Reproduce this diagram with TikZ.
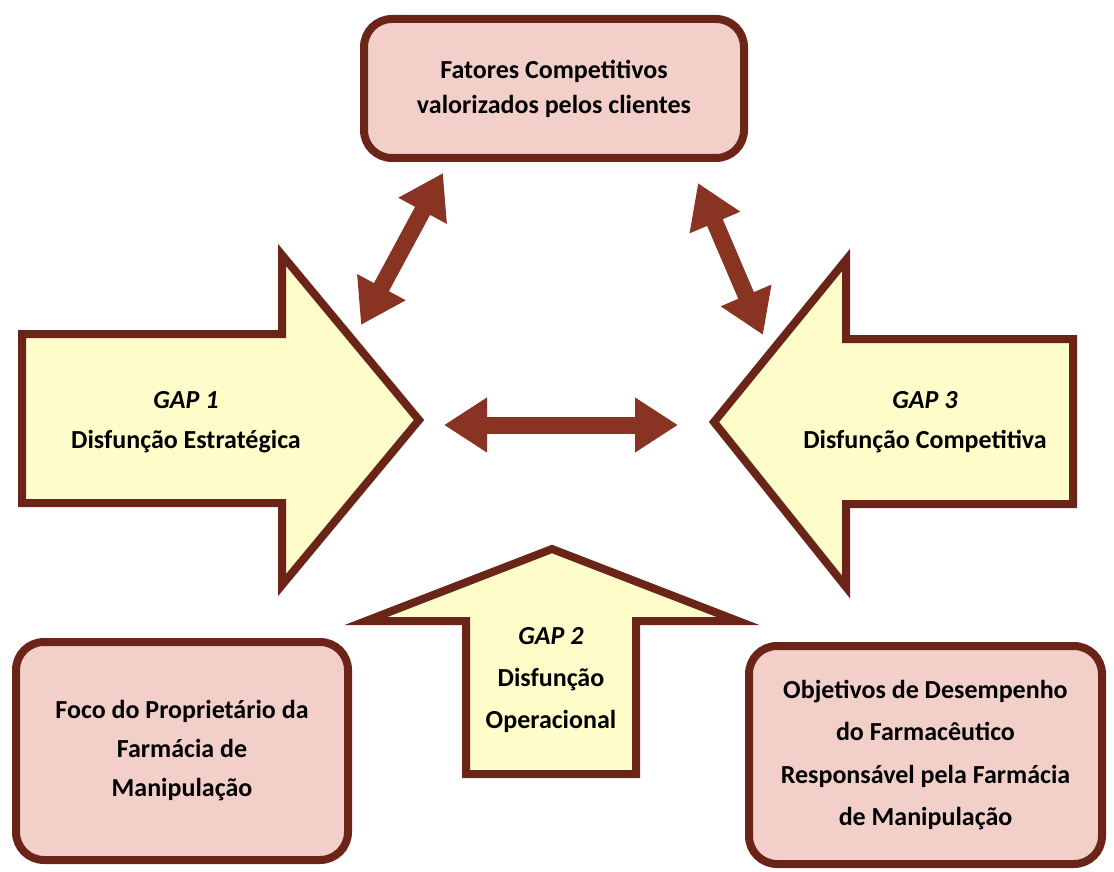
\documentclass[tikz,border=0pt]{standalone}
\usepackage{fontspec}
\setmainfont{Carlito}
\usetikzlibrary{arrows.meta}
\definecolor{gapborder}{HTML}{6A2518}
\definecolor{boxfill}{HTML}{F2D0C9}
\definecolor{gapfill}{HTML}{FEFCC9}
\definecolor{linkred}{HTML}{893322}
\begin{document}
\begin{tikzpicture}[x=0.5pt,y=-0.5pt,
    focobox/.style={draw=gapborder,fill=boxfill,line width=4pt,rounded corners=14pt,align=center,
        font=\bfseries\fontsize{13}{20}\selectfont},
    gapshape/.style={draw=gapborder,fill=gapfill,line width=4pt,line join=miter},
    gaptext/.style={align=center,font=\bfseries\fontsize{13}{20}\selectfont},
    link/.style={draw=linkred,line width=8.5pt,
        {Triangle[length=21.5pt,width=26pt]}-{Triangle[length=21.5pt,width=26pt]}}]
\useasboundingbox (0,0) rectangle (1114,872);
% boxes
\node[focobox,minimum width=190pt,minimum height=69.5pt,font=\bfseries\fontsize{13}{17.5}\selectfont] (fatores) at (554,88.5)
    {Fatores Competitivos\\valorizados pelos clientes};
\node[focobox,minimum width=166pt,minimum height=109pt,font=\bfseries\fontsize{13}{19.5}\selectfont] (foco) at (182,751)
    {Foco do Proprietário da\\Farmácia de\\Manipulação};
\node[focobox,minimum width=176.5pt,minimum height=109pt,font=\bfseries\fontsize{13}{21.3}\selectfont] (objetivos) at (925.5,755)
    {Objetivos de Desempenho\\do Farmacêutico\\Responsável pela Farmácia\\de Manipulação};
% gap arrows
\draw[gapshape] (22,334) -- (282,334) -- (282,255) -- (419,420) -- (282,585) -- (282,503) -- (22,503) -- cycle;
\node[gaptext] (gap1) at (186,422) {\textit{GAP 1}\\Disfunção Estratégica};
\draw[gapshape] (1073,339) -- (846,339) -- (846,260) -- (714,422) -- (846,587) -- (846,504) -- (1073,504) -- cycle;
\node[gaptext] (gap3) at (925,422) {\textit{GAP 3}\\Disfunção Competitiva};
\draw[gapshape] (552,549) -- (738,621) -- (636,621) -- (636,774) -- (466,774) -- (466,621) -- (366,621) -- cycle;
\node[gaptext,font=\bfseries\fontsize{13}{21}\selectfont] (gap2) at (551,680) {\textit{GAP 2}\\Disfunção\\Operacional};
% double arrows
\coordinate (la) at (443,173);
\coordinate (lb) at (361,325);
\coordinate (ra) at (698,183);
\coordinate (rb) at (763,335);
\coordinate (ha) at (444,425);
\coordinate (hb) at (678,425);
\draw[link] (la) -- (lb);
\draw[link] (ra) -- (rb);
\draw[link] (ha) -- (hb);
\end{tikzpicture}
\end{document}
